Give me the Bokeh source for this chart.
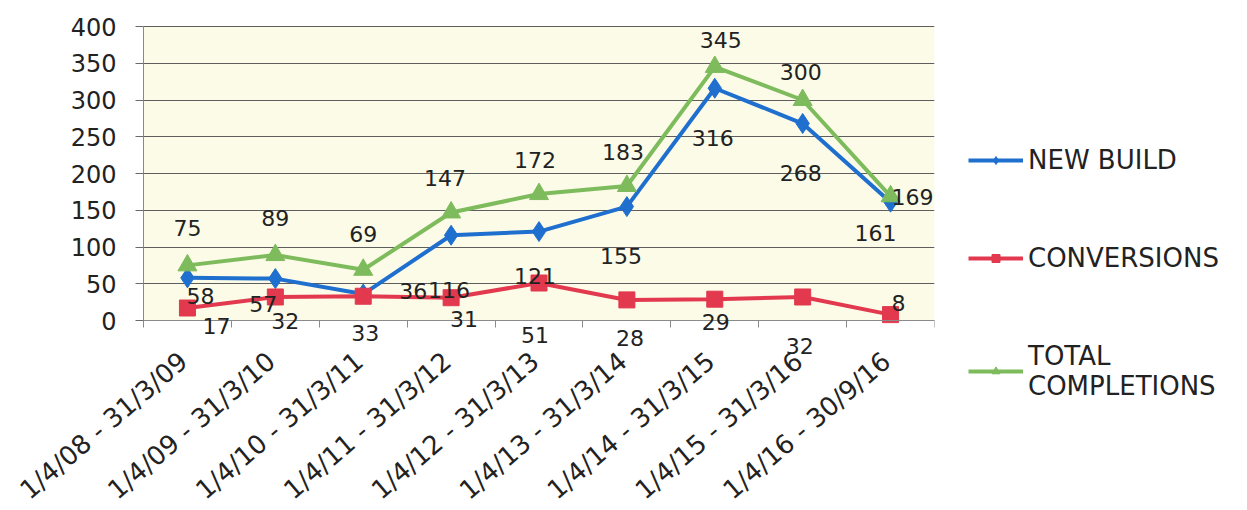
import math
from bokeh.plotting import figure
from bokeh.models import (FixedTicker, Legend, LegendItem, ColumnDataSource,
                          LabelSet, Range1d, BoxAnnotation)
from bokeh.core.properties import value
from bokeh.embed import file_html
from bokeh.resources import INLINE

categories = ["1/4/08 - 31/3/09", "1/4/09 - 31/3/10", "1/4/10 - 31/3/11",
              "1/4/11 - 31/3/12", "1/4/12 - 31/3/13", "1/4/13 - 31/3/14",
              "1/4/14 - 31/3/15", "1/4/15 - 31/3/16", "1/4/16 - 30/9/16"]
new_build = [58, 57, 36, 116, 121, 155, 316, 268, 161]
conversions = [17, 32, 33, 31, 51, 28, 29, 32, 8]
total = [75, 89, 69, 147, 172, 183, 345, 300, 169]
y_ticks = [0, 50, 100, 150, 200, 250, 300, 350, 400]

# data-label offsets in screen px (dy positive = down)
nb_dx = [13, -12, 50, -2, -4, -6, -2, -2, -15]
nb_dy = [18, 25, -3, 55, 44, 49, 50, 49, 31]
cv_dx = [29, 10, 2, 13, -4, 3, 1, -3, 8]
cv_dy = [18, 24, 37, 21, 52, 38, 23, 49, -12]
tc_dx = [0, 0, 0, -6, -4, -4, 6, -2, 22]
tc_dy = [-37, -37, -36, -34, -34, -34, -27, -28, 1]

BLUE = "#1f6fcf"
RED = "#e2394f"
GREEN = "#7dbb5c"
CREAM = "#fbfbe7"
FONT = "DejaVu Sans"
TXT = "#222222"

n = len(categories)
xs = [i + 0.5 for i in range(n)]
y_top = y_ticks[-1]
y_base = y_ticks[0]

PLOT_W = 791          # px spanned by the categories
LEFT_W = 143          # px left of the value axis (tick labels)
PLOT_H = 294          # px between value 0 and value 400
TOP_PAD = 18          # px above value 400 (room for the top tick label)
BOTTOM_PAD = 188      # px below value 0 (rotated category labels)
FRAME_H = TOP_PAD + PLOT_H + BOTTOM_PAD
x_left = -n * LEFT_W / PLOT_W
y_hi = y_top + y_top * TOP_PAD / PLOT_H
y_lo = -y_top * BOTTOM_PAD / PLOT_H

p = figure(frame_width=PLOT_W + LEFT_W, frame_height=FRAME_H,
           output_backend="svg", toolbar_location=None,
           x_range=Range1d(x_left, n), y_range=Range1d(y_lo, y_hi),
           min_border_left=0, min_border_right=306,
           min_border_top=8, min_border_bottom=0)
p.background_fill_color = "white"
p.border_fill_color = "white"
p.outline_line_color = None
p.xgrid.visible = False

grid = p.ygrid[0]
if hasattr(grid, "cross_bounds"):
    grid.cross_bounds = (0, n)
    grid.grid_line_color = "#5e5e5e"
    grid.grid_line_width = 1
else:
    grid.visible = False
    p.segment(x0=[0] * len(y_ticks), x1=[n] * len(y_ticks),
              y0=y_ticks, y1=y_ticks, line_color="#5e5e5e", line_width=1,
              level="underlay")

p.add_layout(BoxAnnotation(left=0, right=n, bottom=y_base, top=y_top,
                           fill_color=CREAM, fill_alpha=1.0,
                           line_color=None, level="image"))

p.yaxis.fixed_location = 0
p.yaxis.ticker = FixedTicker(ticks=y_ticks)
p.yaxis.bounds = (y_base, y_top)
p.yaxis.major_tick_out = 8
p.yaxis.major_tick_in = 0
p.yaxis.minor_tick_line_color = None
p.yaxis.axis_line_color = "#8a8a8a"
p.yaxis.major_tick_line_color = "#6a6a6a"
p.yaxis.major_label_standoff = 19
p.yaxis.major_label_text_font = FONT
p.yaxis.major_label_text_font_size = "24px"
p.yaxis.major_label_text_color = TXT

p.xaxis.fixed_location = y_base
p.xaxis.bounds = (0, n)
p.xaxis.ticker = FixedTicker(ticks=[], minor_ticks=list(range(n + 1)))
p.xaxis.major_tick_out = 0
p.xaxis.major_tick_in = 0
p.xaxis.minor_tick_out = 7
p.xaxis.minor_tick_in = 0
p.xaxis.minor_tick_line_color = "#8a8a8a"
p.xaxis.axis_line_color = "#8a8a8a"

src = ColumnDataSource(dict(x=xs, nb=new_build, cv=conversions, tc=total,
                            nbt=[str(v) for v in new_build],
                            cvt=[str(v) for v in conversions],
                            tct=[str(v) for v in total],
                            nbdx=nb_dx, nbdy=[-d for d in nb_dy],
                            cvdx=cv_dx, cvdy=[-d for d in cv_dy],
                            tcdx=tc_dx, tcdy=[-d for d in tc_dy],
                            cat=categories, base=[y_base] * n))

l_nb = p.line("x", "nb", source=src, line_color=BLUE, line_width=4)
m_nb = p.scatter("x", "nb", source=src, marker="diamond", size=20,
                 fill_color=BLUE, line_color=BLUE)
l_cv = p.line("x", "cv", source=src, line_color=RED, line_width=4)
m_cv = p.scatter("x", "cv", source=src, marker="square", size=16,
                 fill_color=RED, line_color=RED)
l_tc = p.line("x", "tc", source=src, line_color=GREEN, line_width=4)
m_tc = p.scatter("x", "tc", source=src, marker="triangle", size=19,
                 fill_color=GREEN, line_color=GREEN)

for field, yf, dx, dy in (("tct", "tc", "tcdx", "tcdy"),
                          ("nbt", "nb", "nbdx", "nbdy"),
                          ("cvt", "cv", "cvdx", "cvdy")):
    p.add_layout(LabelSet(x="x", y=yf, text=field, source=src,
                          x_offset=dx, y_offset=dy,
                          text_align="center", text_baseline="middle",
                          text_font=value(FONT), text_font_size="22px",
                          text_color=TXT))

# category labels, rotated, right end under each category
p.add_layout(LabelSet(x="x", y="base", text="cat", source=src,
                      angle=math.radians(40.5), angle_units="rad",
                      x_offset=-4, y_offset=-37,
                      text_align="right", text_baseline="middle",
                      text_font=value(FONT), text_font_size="26px",
                      text_color=TXT))

legend = Legend(items=[
    LegendItem(label="NEW BUILD", renderers=[l_nb, m_nb]),
    LegendItem(label="CONVERSIONS", renderers=[l_cv, m_cv]),
    LegendItem(label="TOTAL\nCOMPLETIONS", renderers=[l_tc, m_tc]),
], location=(34, 107))
legend.border_line_color = None
legend.background_fill_alpha = 0
legend.margin = 0
legend.padding = 0
legend.glyph_width = 55
legend.glyph_height = 20
legend.label_standoff = 5
legend.spacing = 68
legend.label_text_font = FONT
legend.label_text_font_size = "26px"
legend.label_text_color = TXT
legend.label_text_line_height = 1.5
p.add_layout(legend, "right")

open("out.html", "w").write(file_html(p, INLINE))
